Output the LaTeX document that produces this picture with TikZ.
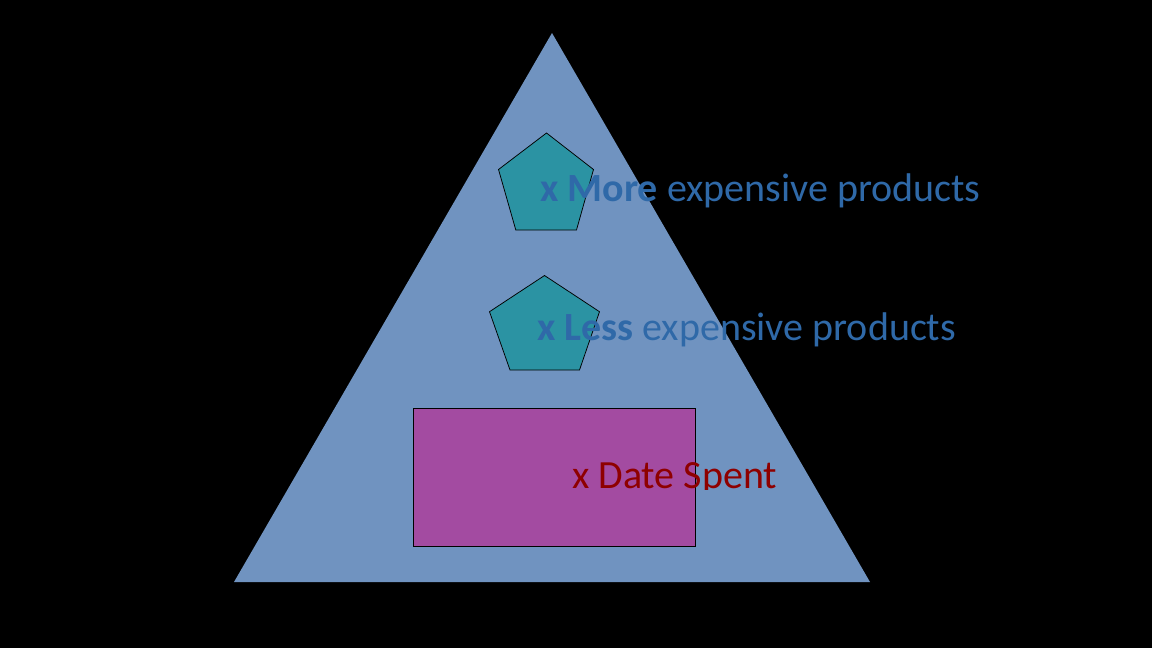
\documentclass[tikz,border=0pt]{standalone}
\usepackage{fontspec}
\setmainfont{Carlito}
\definecolor{bgblack}{HTML}{000000}
\definecolor{trifill}{HTML}{7093C0}
\definecolor{pentfill}{HTML}{2B93A3}
\definecolor{rectfill}{HTML}{A34BA1}
\definecolor{bluetext}{HTML}{2F69A8}
\definecolor{redtext}{HTML}{8E0000}
\tikzset{
  shapeline/.style={draw=black, line width=0.75pt},
  bluelabel/.style={anchor=base west, inner sep=0pt, text=bluetext, font=\fontsize{40}{45}\selectfont},
  redlabel/.style={anchor=base west, inner sep=0pt, text=redtext, font=\fontsize{40}{45}\selectfont}
}
\begin{document}
\begin{tikzpicture}[x=1pt,y=-1pt]
\fill[bgblack] (0,0) rectangle (1152,648);
\useasboundingbox (0,0) rectangle (1152,648);
% triangle
\fill[trifill] (552,33) -- (870,582) -- (234,582) -- cycle;
% pentagons
\filldraw[shapeline, fill=pentfill] (546.5,133) -- (593.5,169.5) -- (576.5,230) -- (515.8,230) -- (498.5,169.5) -- cycle;
\filldraw[shapeline, fill=pentfill] (544.5,275.5) -- (599.5,311.7) -- (579.5,370) -- (510,370) -- (489.5,311.7) -- cycle;
% rectangle
\filldraw[shapeline, fill=rectfill] (413.3,408.3) rectangle (695.7,546);
% labels
\node[bluelabel] (more) at (540,201) {\textbf{x More} expensive products};
\node[bluelabel] (less) at (537,340) {\textbf{x Less} expensive products};
\begin{scope}
\clip (0,0) rectangle (1152,489.5);
\node[redlabel] (date) at (572,488.3) {x Date Spent};
\end{scope}
\end{tikzpicture}
\end{document}
